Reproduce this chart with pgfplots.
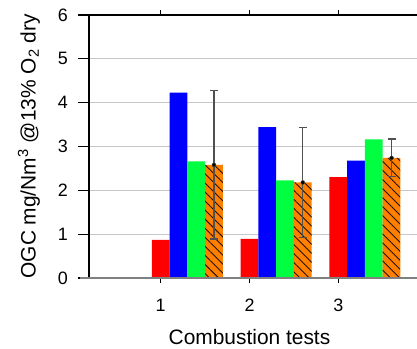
\documentclass[border=0pt]{standalone}
\usepackage{fontspec}
\setmainfont{Liberation Sans}
\usepackage{pgfplots}
\pgfplotsset{compat=1.18}
\usetikzlibrary{patterns.meta}
\definecolor{cRed}{HTML}{FF0000}
\definecolor{cBlue}{HTML}{0000FF}
\definecolor{cGreen}{HTML}{00FF40}
\definecolor{cOrange}{HTML}{FF8000}
\definecolor{gridgray}{HTML}{C8C8C8}
\definecolor{axgray}{HTML}{808080}
\definecolor{errgray}{HTML}{505050}
\begin{document}
\begin{tikzpicture}
\useasboundingbox (-89bp,-71bp) rectangle (328bp,278bp);
\begin{axis}[
  at={(0,0)}, anchor=south west,
  scale only axis, width=328bp, height=263bp,
  xmin=0.193, xmax=3.886, ymin=0, ymax=6,
  xtick={1,2,3}, ytick={0,1,2,3,4,5,6},
  axis line style={draw=none},
  clip=false,
  ymajorgrids,
  grid style={color=gridgray, line width=1.3bp},
  tick align=outside,
  major tick length=11bp,
  ytick style={black, line width=1.2bp},
  xtick style={black, line width=1.2bp, /pgfplots/major tick length=5bp},
  /pgf/number format/assume math mode=true,
  tick label style={font=\fontsize{18}{20}\selectfont},
  yticklabel style={inner sep=0pt, xshift=-10bp},
  xticklabel style={inner sep=0pt, yshift=-10bp},
  xlabel={Combustion tests},
  ylabel={OGC mg/Nm\textsuperscript{3} @13\% O\textsubscript{2} dry},
  label style={font=\fontsize{21}{23}\selectfont},
  xlabel style={at={(axis cs:2,0)}, anchor=north, yshift=-51bp, inner sep=0pt},
  ylabel style={at={([xshift=-60bp]axis description cs:0,0.5)}, anchor=center, inner sep=0pt},
]
\addplot[ybar, bar width=0.2, bar shift=0pt, fill=cRed, draw=none]
  coordinates {(1,0.87) (2,0.89) (3,2.30)};
\addplot[ybar, bar width=0.2, bar shift=0pt, fill=cBlue, draw=none]
  coordinates {(1.2,4.23) (2.2,3.44) (3.2,2.68)};
\addplot[ybar, bar width=0.2, bar shift=0pt, fill=cGreen, draw=none]
  coordinates {(1.4,2.66) (2.4,2.23) (3.4,3.16)};
\addplot[ybar, bar width=0.2, bar shift=0pt, fill=cOrange, draw=none,
  postaction={pattern={Lines[angle=-45, distance=6.4bp, line width=0.9bp]}, pattern color=black!85!cOrange}]
  coordinates {(1.6,2.58) (2.6,2.18) (3.6,2.74)};
\addplot[only marks, mark=none, draw=errgray,
  error bars/.cd, y dir=both, y explicit,
  error bar style={errgray, line width=1.3bp},
  error mark options={errgray, rotate=90, mark size=4bp, line width=1.3bp}]
  coordinates {(1.6,2.58) +- (0,1.69) (2.6,2.18) +- (0,1.26) (3.6,2.74) +- (0,0.43)};
\draw[black, line width=1.3bp] (rel axis cs:0,0) -- (rel axis cs:0,1);
\draw[black, line width=1.3bp] ([xshift=-0.65bp]rel axis cs:0,1) -- (rel axis cs:1,1);
\draw[axgray, line width=2bp] ([xshift=-9bp]rel axis cs:0,0) -- (rel axis cs:1,0);
\end{axis}
\end{tikzpicture}
\end{document}
